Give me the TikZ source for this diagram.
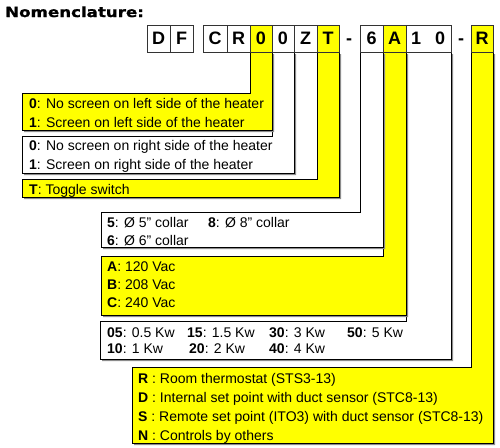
\documentclass[tikz,border=0pt]{standalone}
\usepackage{fontspec}
\setmainfont{Liberation Sans}
\newfontfamily\titlefont[BoldFeatures={FakeBold=1.2}]{DejaVu Sans}
\definecolor{yel}{HTML}{FFFF00}
\definecolor{shd}{HTML}{8C8C8C}
\tikzset{
  lline/.style={draw=black, line width=0.8pt},
  codebox/.style={draw=black!80, line width=0.7pt, minimum height=27pt, inner sep=0pt,
     font=\fontsize{18}{20}\selectfont\bfseries, text height=12.9pt, text depth=0pt},
  codechar/.style={inner sep=0pt, font=\fontsize{18}{20}\selectfont\bfseries, text height=12.9pt, text depth=0pt},
  txt/.style={font=\fontsize{14}{16}\selectfont, anchor=base west, inner sep=0pt},
}
% #1 fill, #2 colL, #3 colR, #4 boxL, #5 boxTop, #6 bottom
\newcommand\Lshp[6]{%
  \fill[shd,shift={(2,2)}] (#2,52) -- (#3,52) -- (#3,#6) -- (#4,#6) -- (#4,#5) -- (#2,#5) -- cycle;
  \filldraw[fill=#1,lline] (#2,52) -- (#3,52) -- (#3,#6) -- (#4,#6) -- (#4,#5) -- (#2,#5) -- cycle;
}
\begin{document}
\begin{tikzpicture}[x=1pt,y=-1pt]
\useasboundingbox (0,0) rectangle (500,447);

\node[anchor=base west, inner sep=0pt] (title) at (5,17)
  {\scalebox{1.19}[1]{\titlefont\bfseries\fontsize{14}{16}\selectfont Nomenclature:}};

% L-shaped legend areas (outermost first)
\Lshp{yel}{471}{493}{132}{367}{443}
\Lshp{white}{406}{451}{100}{321}{359}
\Lshp{yel}{383}{406}{101}{256}{315}
\Lshp{white}{360}{383}{101}{212}{247}
\Lshp{yel}{317}{339}{22}{179}{197}
\Lshp{white}{272}{294}{22}{136}{173}
\Lshp{yel}{250}{272}{22}{93}{130}

% code boxes
\node[codebox, fill=white, minimum width=23pt] (cD) at (158.5,38.5) {D};
\node[codebox, fill=white, minimum width=23pt] (cF) at (181.5,38.5) {F};
\node[codebox, fill=white, minimum width=24pt] (cC) at (215,38.5) {C};
\node[codebox, fill=white, minimum width=23pt] (cR) at (238.5,38.5) {R};
\node[codebox, fill=yel, minimum width=22pt] (c0a) at (261,38.5) {0};
\node[codebox, fill=white, minimum width=22pt] (c0b) at (283,38.5) {0};
\node[codebox, fill=white, minimum width=23pt] (cZ) at (305.5,38.5) {Z};
\node[codebox, fill=yel, minimum width=22pt] (cT) at (328,38.5) {T};
\node[codechar] (h1) at (349,38.5) {-};
\node[codebox, fill=white, minimum width=23pt] (c6) at (371.5,38.5) {6};
\node[codebox, fill=yel, minimum width=23pt] (cA) at (394.5,38.5) {A};
\node[codebox, fill=white, minimum width=45pt] (c10) at (428.5,38.5) {};
\node[codechar] (c10a) at (416,38.5) {1};
\node[codechar] (c10b) at (440,38.5) {0};
\node[codechar] (h2) at (461,38.5) {-};
\node[codebox, fill=yel, minimum width=22pt] (cR2) at (482,38.5) {R};

% texts
\node[txt] (a1) at (29,108) {\textbf{0}: No screen on left side of the heater};
\node[txt] (a2) at (29,127) {\textbf{1}: Screen on left side of the heater};
\node[txt] (b1) at (29,150) {\textbf{0}: No screen on right side of the heater};
\node[txt] (b2) at (29,169) {\textbf{1}: Screen on right side of the heater};
\node[txt] (t1) at (29,194) {\textbf{T}: Toggle switch};

\node[txt] (d1) at (107,227) {\textbf{5}: Ø 5" collar};
\node[txt] (d2) at (208,227) {\textbf{8}: Ø 8" collar};
\node[txt] (d3) at (107,245) {\textbf{6}: Ø 6" collar};

\node[txt] (v1) at (107,271) {\textbf{A}: 120 Vac};
\node[txt] (v2) at (107,289) {\textbf{B}: 208 Vac};
\node[txt] (v3) at (107,307) {\textbf{C}: 240 Vac};

\node[txt] (p1) at (107,337) {\textbf{05}: 0.5 Kw};
\node[txt] (p2) at (187,337) {\textbf{15}: 1.5 Kw};
\node[txt] (p3) at (269,337) {\textbf{30}: 3 Kw};
\node[txt] (p4) at (347,337) {\textbf{50}: 5 Kw};
\node[txt] (p5) at (107,353) {\textbf{10}: 1 Kw};
\node[txt] (p6) at (189,353) {\textbf{20}: 2 Kw};
\node[txt] (p7) at (269,353) {\textbf{40}: 4 Kw};

\node[txt] (r1) at (138,383) {\textbf{R} : Room thermostat (STS3-13)};
\node[txt] (r2) at (138,402) {\textbf{D} : Internal set point with duct sensor (STC8-13)};
\node[txt] (r3) at (138,421) {\textbf{S} : Remote set point (ITO3) with duct sensor (STC8-13)};
\node[txt] (r4) at (138,440) {\textbf{N} : Controls by others};
\end{tikzpicture}
\end{document}
